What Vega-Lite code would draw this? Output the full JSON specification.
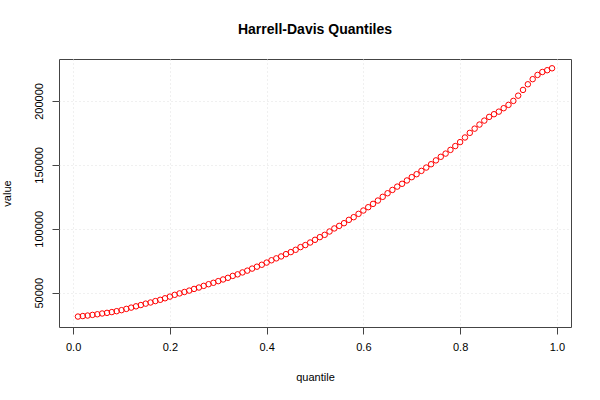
{
  "$schema": "https://vega.github.io/schema/vega-lite/v6.json",
  "width": 512,
  "height": 268,
  "autosize": "none",
  "padding": {"left": 59, "top": 59, "right": 29, "bottom": 73},
  "background": "white",
  "title": {
    "text": "Harrell-Davis Quantiles",
    "font": "Liberation Sans",
    "fontSize": 14,
    "fontWeight": "bold",
    "color": "black",
    "anchor": "middle",
    "frame": "group",
    "baseline": "alphabetic",
    "offset": 11
  },
  "data": {
    "values": [
      {"q": 0.01, "v": 31400}, {"q": 0.02, "v": 31800}, {"q": 0.03, "v": 32200},
      {"q": 0.04, "v": 32700}, {"q": 0.05, "v": 33200}, {"q": 0.06, "v": 33800},
      {"q": 0.07, "v": 34300}, {"q": 0.08, "v": 34900}, {"q": 0.09, "v": 35600},
      {"q": 0.10, "v": 36400}, {"q": 0.11, "v": 37400}, {"q": 0.12, "v": 38400},
      {"q": 0.13, "v": 39400}, {"q": 0.14, "v": 40400}, {"q": 0.15, "v": 41500},
      {"q": 0.16, "v": 42400}, {"q": 0.17, "v": 43500}, {"q": 0.18, "v": 44500},
      {"q": 0.19, "v": 45700}, {"q": 0.20, "v": 47000}, {"q": 0.21, "v": 48400},
      {"q": 0.22, "v": 49500}, {"q": 0.23, "v": 50600}, {"q": 0.24, "v": 51700},
      {"q": 0.25, "v": 53000}, {"q": 0.26, "v": 54100}, {"q": 0.27, "v": 55400},
      {"q": 0.28, "v": 56700}, {"q": 0.29, "v": 57800}, {"q": 0.30, "v": 59100},
      {"q": 0.31, "v": 60400}, {"q": 0.32, "v": 61700}, {"q": 0.33, "v": 63200},
      {"q": 0.34, "v": 64400}, {"q": 0.35, "v": 65900}, {"q": 0.36, "v": 67300},
      {"q": 0.37, "v": 68900}, {"q": 0.38, "v": 70400}, {"q": 0.39, "v": 71900},
      {"q": 0.40, "v": 73600}, {"q": 0.41, "v": 75400}, {"q": 0.42, "v": 76900},
      {"q": 0.43, "v": 78400}, {"q": 0.44, "v": 80200}, {"q": 0.45, "v": 81800},
      {"q": 0.46, "v": 83600}, {"q": 0.47, "v": 85700}, {"q": 0.48, "v": 87300},
      {"q": 0.49, "v": 89300}, {"q": 0.50, "v": 91400}, {"q": 0.51, "v": 93500},
      {"q": 0.52, "v": 95300}, {"q": 0.53, "v": 97900}, {"q": 0.54, "v": 100300},
      {"q": 0.55, "v": 102300}, {"q": 0.56, "v": 104400}, {"q": 0.57, "v": 107000},
      {"q": 0.58, "v": 109100}, {"q": 0.59, "v": 111700}, {"q": 0.60, "v": 114300},
      {"q": 0.61, "v": 116900}, {"q": 0.62, "v": 119500}, {"q": 0.63, "v": 122100},
      {"q": 0.64, "v": 125000}, {"q": 0.65, "v": 127800}, {"q": 0.66, "v": 130400},
      {"q": 0.67, "v": 133000}, {"q": 0.68, "v": 135200}, {"q": 0.69, "v": 137800},
      {"q": 0.70, "v": 140400}, {"q": 0.71, "v": 142700}, {"q": 0.72, "v": 145300},
      {"q": 0.73, "v": 147900}, {"q": 0.74, "v": 150500}, {"q": 0.75, "v": 153500},
      {"q": 0.76, "v": 156300}, {"q": 0.77, "v": 158800}, {"q": 0.78, "v": 161700},
      {"q": 0.79, "v": 164700}, {"q": 0.80, "v": 167800}, {"q": 0.81, "v": 171400},
      {"q": 0.82, "v": 175000}, {"q": 0.83, "v": 178300}, {"q": 0.84, "v": 181500},
      {"q": 0.85, "v": 184600}, {"q": 0.86, "v": 187500}, {"q": 0.87, "v": 189600},
      {"q": 0.88, "v": 191600}, {"q": 0.89, "v": 194300}, {"q": 0.90, "v": 196900},
      {"q": 0.91, "v": 200000}, {"q": 0.92, "v": 204100}, {"q": 0.93, "v": 208600},
      {"q": 0.94, "v": 213000}, {"q": 0.95, "v": 217000}, {"q": 0.96, "v": 220300},
      {"q": 0.97, "v": 222600}, {"q": 0.98, "v": 224000}, {"q": 0.99, "v": 225500}
    ]
  },
  "mark": {
    "type": "point",
    "shape": "circle",
    "filled": false,
    "color": "#ff0000",
    "strokeWidth": 1,
    "size": 30,
    "opacity": 1
  },
  "encoding": {
    "x": {
      "field": "q",
      "type": "quantitative",
      "scale": {"domain": [-0.0292, 1.0292], "nice": false, "zero": false},
      "axis": {
        "title": "quantile",
        "values": [0, 0.2, 0.4, 0.6, 0.8, 1.0],
        "format": ".1f",
        "labelPadding": 7,
        "titlePadding": 19
      }
    },
    "y": {
      "field": "v",
      "type": "quantitative",
      "scale": {"domain": [23240, 232760], "nice": false, "zero": false},
      "axis": {
        "title": "value",
        "values": [50000, 100000, 150000, 200000],
        "format": "d",
        "labelAngle": 270,
        "labelAlign": "center",
        "labelBaseline": "bottom",
        "labelPadding": 8,
        "titlePadding": 21
      }
    }
  },
  "config": {
    "font": "Liberation Sans",
    "view": {"stroke": "#444444", "strokeWidth": 1},
    "axis": {
      "domain": false,
      "grid": true,
      "gridColor": "#e0e0e0",
      "gridDash": [1, 3],
      "gridWidth": 1,
      "ticks": true,
      "tickSize": 7,
      "tickColor": "#444444",
      "labelFont": "Liberation Sans",
      "labelFontSize": 11,
      "labelColor": "black",
      "titleFont": "Liberation Sans",
      "titleFontSize": 11,
      "titleFontWeight": "normal",
      "titleColor": "black"
    }
  }
}
